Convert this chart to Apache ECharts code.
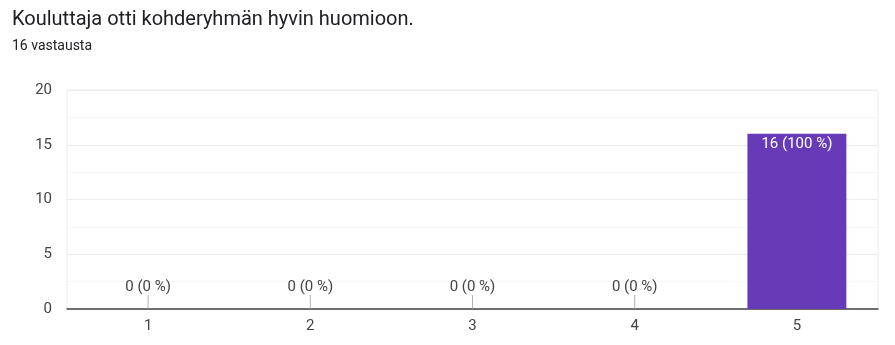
<!DOCTYPE html>
<html><head><meta charset="utf-8">
<script src="https://cdn.jsdelivr.net/npm/echarts@6/dist/echarts.min.js"></script>
<style>html,body{margin:0;padding:0;background:#fff}#c{width:895px;height:345px}</style>
</head><body><div id="c"></div>
<script>
const titleText = 'Kouluttaja otti kohderyhmän hyvin huomioon.';
const subText = '16 vastausta';
const categories = ['1', '2', '3', '4', '5'];
const counts = [0, 0, 0, 0, 16];
const yTicks = [0, 5, 10, 15, 20];

const total = counts.reduce((a, b) => a + b, 0);
const pct = v => Math.round(v / total * 100);
const font = 'Roboto, Arial, sans-serif';

const barData = counts.map(v => ({
  value: v,
  label: v > 0
    ? { position: 'insideTop', color: '#ffffff', distance: 3 }
    : { position: 'top', color: '#444444', distance: 14 }
}));
const zeroMarks = counts.map((v, i) => v === 0 ? [categories[i], 0] : null).filter(Boolean);

const chart = echarts.init(document.getElementById('c'), null, { renderer: 'canvas' });
chart.setOption({
  animation: false,
  title: [
    { text: titleText, left: 7, top: 5, textStyle: { fontFamily: font, fontSize: 20, fontWeight: 'normal', color: '#202124' } },
    { text: subText, left: 7, top: 34, textStyle: { fontFamily: font, fontSize: 14, fontWeight: 'normal', color: '#202124' } }
  ],
  grid: { left: 67, right: 17, top: 90, bottom: 36, show: true, borderColor: '#ececec', borderWidth: 1 },
  xAxis: {
    type: 'category', data: categories,
    axisTick: { show: false },
    axisLine: { lineStyle: { color: '#444444', width: 1.5 } },
    axisLabel: { color: '#444444', fontSize: 15, fontFamily: font, margin: 10 }
  },
  yAxis: {
    type: 'value', min: yTicks[0], max: yTicks[yTicks.length - 1], interval: 5,
    axisLine: { show: false }, axisTick: { show: false },
    axisLabel: { color: '#444444', fontSize: 15, fontFamily: font, margin: 15 },
    splitLine: { lineStyle: { color: '#ececec' } },
    minorTick: { show: false, splitNumber: 2 },
    minorSplitLine: { show: true, lineStyle: { color: '#f6f6f6' } }
  },
  series: [
    {
      type: 'bar', data: barData, barWidth: '61%',
      itemStyle: { color: '#673ab7' },
      label: { show: true, fontSize: 15, fontFamily: font, formatter: p => p.value + ' (' + pct(p.value) + ' %)' },
      z: 3
    },
    {
      type: 'scatter', data: zeroMarks, symbol: 'rect', symbolSize: [1, 14], symbolOffset: [0, '-50%'],
      itemStyle: { color: '#9e9e9e' }, silent: true, z: 2
    }
  ]
});
</script></body></html>
